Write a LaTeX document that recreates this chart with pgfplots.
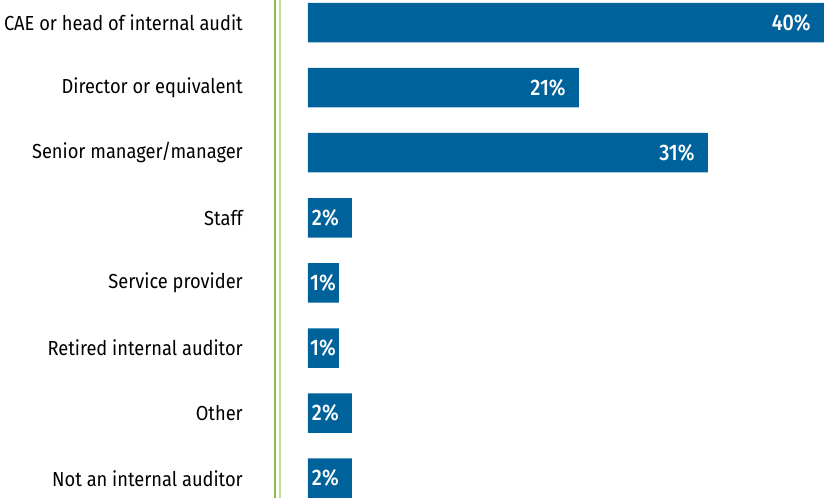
\documentclass[border=0pt]{standalone}
\usepackage{pgfplots}
\pgfplotsset{compat=1.18}
\usepackage{pgfplotstable}
\usepackage{fontspec}
\setmainfont{Fira Sans}[FakeStretch=0.9]
\newfontfamily\medfont{Fira Sans Medium}[FakeStretch=0.88]
\definecolor{barblue}{RGB}{0,98,155}
\definecolor{greenA}{HTML}{8CBE46}
\definecolor{greenB}{HTML}{C0DE90}
\pgfplotstableread{
y len val
0 40 40
1 21 21
2 31 31
3 3.41 2
4 2.40 1
5 2.40 1
6 3.41 2
7 3.41 2
}\datatab
\begin{document}
\begin{tikzpicture}
\begin{axis}[
  xbar, scale only axis,
  width=516pt, height=497.8pt,
  xmin=0, xmax=40,
  ymin=-0.346, ymax=7.3,
  y dir=reverse,
  axis line style={draw=none},
  xtick=\empty,
  ytick={0,...,7},
  yticklabels={CAE or head of internal audit,Director or equivalent,Senior manager/manager,Staff,Service provider,Retired internal auditor,Other,Not an internal auditor},
  major tick length=0pt,
  yticklabel style={anchor=east, inner sep=0pt, xshift=-65pt, font=\fontsize{20.3}{20.3}\selectfont, text=black},
  bar width=39.5pt,
  clip=false,
  point meta=explicit symbolic,
  visualization depends on={\thisrow{len} \as \barlen},
  nodes near coords={\pgfplotspointmeta\%},
  every node near coord/.append style={anchor=east, xshift={(\barlen<3)*10-13}, inner sep=0pt, text=white, font=\medfont\fontsize{22.5}{22.5}\selectfont},
]
\addplot[fill=barblue, draw=none] table[x=len, y=y, meta=val] {\datatab};
\coordinate (c1) at ([xshift=-308pt]rel axis cs:0,0);
\coordinate (c2) at (rel axis cs:1,1);
\coordinate (b0) at (rel axis cs:0,0);
\coordinate (b1) at (rel axis cs:0,1);
\end{axis}
\fill[greenA] ([xshift=-33.7pt]b0) rectangle ([xshift=-31.7pt]b1);
\fill[greenB] ([xshift=-29.3pt]b0) rectangle ([xshift=-27.3pt]b1);
\useasboundingbox (c1) rectangle (c2);
\end{tikzpicture}
\end{document}
